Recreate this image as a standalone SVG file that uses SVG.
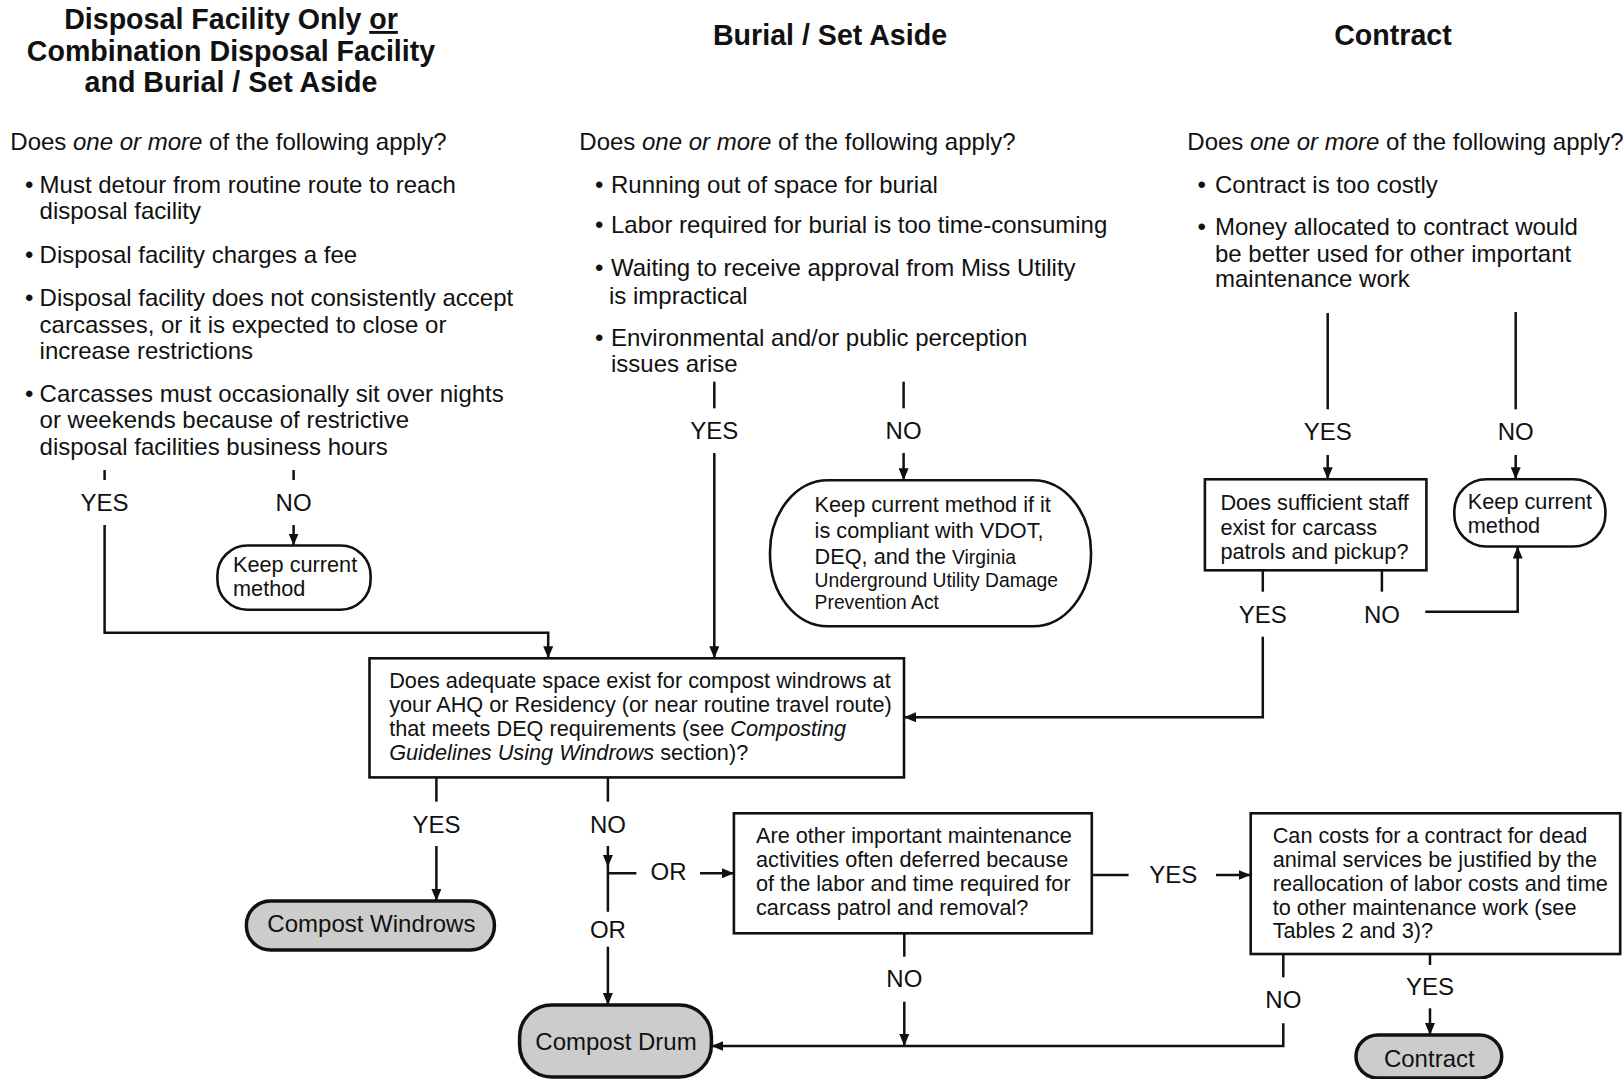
<svg xmlns="http://www.w3.org/2000/svg" width="1623" height="1079" viewBox="0 0 1623 1079">
<defs>
<marker id="ah" viewBox="0 0 12 10" refX="12" refY="5" markerWidth="12" markerHeight="10" markerUnits="userSpaceOnUse" orient="auto"><path d="M0,0 L12,5 L0,10 z" fill="#111"/></marker>
<style>
text{font-family:"Liberation Sans",Arial,sans-serif;fill:#111}
.t{font-size:28.6px;font-weight:bold;text-anchor:middle}
.b{font-size:24px}
.l{font-size:24px;text-anchor:middle}
.n{font-size:21.7px}
.s{font-size:19.3px}
.m{font-size:24px;text-anchor:middle}
.i{font-style:italic}
.box{fill:#fff;stroke:#111;stroke-width:2.6}
.term{fill:#cccccc;stroke:#111;stroke-width:3.5}
.c{fill:none;stroke:#111;stroke-width:2.5}
.ca{fill:none;stroke:#111;stroke-width:2.5;marker-end:url(#ah)}
</style>
</defs>
<rect width="1623" height="1079" fill="#fff"/>

<g id="headings">
<text class="t" x="231" y="29">Disposal Facility Only <tspan text-decoration="underline">or</tspan></text>
<text class="t" x="231" y="61">Combination Disposal Facility</text>
<text class="t" x="231" y="92">and Burial / Set Aside</text>
<text class="t" x="830" y="44.5">Burial / Set Aside</text>
<text class="t" x="1393" y="44.5">Contract</text>
</g>

<g id="q-disposal">
<text class="b" x="10.3" y="150">Does <tspan class="i">one or more</tspan> of the following apply?</text>
<text class="b" x="25" y="192.7">•</text>
<text class="b" x="39.6" y="192.7">Must detour from routine route to reach</text>
<text class="b" x="39.6" y="219.3">disposal facility</text>
<text class="b" x="25" y="263.3">•</text>
<text class="b" x="39.6" y="263.3">Disposal facility charges a fee</text>
<text class="b" x="25" y="306">•</text>
<text class="b" x="39.6" y="306">Disposal facility does not consistently accept</text>
<text class="b" x="39.6" y="333.3">carcasses, or it is expected to close or</text>
<text class="b" x="39.6" y="359.3">increase restrictions</text>
<text class="b" x="25" y="401.7">•</text>
<text class="b" x="39.6" y="401.7">Carcasses must occasionally sit over nights</text>
<text class="b" x="39.6" y="428.3">or weekends because of restrictive</text>
<text class="b" x="39.6" y="455">disposal facilities business hours</text>
</g>

<g id="q-burial">
<text class="b" x="579.3" y="150">Does <tspan class="i">one or more</tspan> of the following apply?</text>
<text class="b" x="595" y="192.7">•</text>
<text class="b" x="611" y="192.7">Running out of space for burial</text>
<text class="b" x="595" y="233.3">•</text>
<text class="b" x="611" y="233.3">Labor required for burial is too time-consuming</text>
<text class="b" x="595" y="276">•</text>
<text class="b" x="611" y="276">Waiting to receive approval from Miss Utility</text>
<text class="b" x="609" y="304">is impractical</text>
<text class="b" x="595" y="346">•</text>
<text class="b" x="611" y="346">Environmental and/or public perception</text>
<text class="b" x="611" y="371.7">issues arise</text>
</g>

<g id="q-contract">
<text class="b" x="1187.3" y="150">Does <tspan class="i">one or more</tspan> of the following apply?</text>
<text class="b" x="1197.5" y="192.7">•</text>
<text class="b" x="1215" y="192.7">Contract is too costly</text>
<text class="b" x="1197.5" y="235">•</text>
<text class="b" x="1215" y="235">Money allocated to contract would</text>
<text class="b" x="1215" y="261.7">be better used for other important</text>
<text class="b" x="1215" y="287.3">maintenance work</text>
</g>

<g id="keep-left">
<rect class="box" x="217.4" y="545.5" width="153.2" height="64.2" rx="30"/>
<text class="n" x="233" y="572">Keep current</text>
<text class="n" x="233" y="596">method</text>
</g>

<g id="keep-burial">
<rect class="box" x="770" y="480.3" width="321" height="146" rx="58" ry="72"/>
<text class="n" x="814.6" y="512">Keep current method if it</text>
<text class="n" x="814.6" y="537.8">is compliant with VDOT,</text>
<text class="n" x="814.6" y="563.6">DEQ, and the <tspan class="s">Virginia</tspan></text>
<text class="s" x="814.6" y="586.6">Underground Utility Damage</text>
<text class="s" x="814.6" y="609.3">Prevention Act</text>
</g>

<g id="staff">
<rect class="box" x="1204.9" y="479.3" width="221.5" height="91"/>
<text class="n" x="1220.4" y="509.8">Does sufficient staff</text>
<text class="n" x="1220.4" y="534.7">exist for carcass</text>
<text class="n" x="1220.4" y="558.5">patrols and pickup?</text>
</g>

<g id="keep-right">
<rect class="box" x="1454.3" y="479.3" width="151.1" height="67.2" rx="32"/>
<text class="n" x="1467.8" y="508.8">Keep current</text>
<text class="n" x="1467.8" y="532.6">method</text>
</g>

<g id="space">
<rect class="box" x="369.5" y="658.3" width="534.5" height="119.1"/>
<text class="n" x="389.2" y="687.9">Does adequate space exist for compost windrows at</text>
<text class="n" x="389.2" y="711.7">your AHQ or Residency (or near routine travel route)</text>
<text class="n" x="389.2" y="736">that meets DEQ requirements (see <tspan class="i">Composting</tspan></text>
<text class="n" x="389.2" y="760"><tspan class="i">Guidelines Using Windrows</tspan> section)?</text>
</g>

<g id="windrows">
<rect class="term" x="246.4" y="901" width="248" height="49" rx="24"/>
<text class="m" x="371.4" y="932">Compost Windrows</text>
</g>

<g id="deferred">
<rect class="box" x="733.9" y="813.3" width="357.9" height="120"/>
<text class="n" x="756" y="842.7">Are other important maintenance</text>
<text class="n" x="756" y="866.7">activities often deferred because</text>
<text class="n" x="756" y="890.7">of the labor and time required for</text>
<text class="n" x="756" y="915">carcass patrol and removal?</text>
</g>

<g id="justify">
<rect class="box" x="1250.7" y="813.3" width="369.5" height="140.7"/>
<text class="n" x="1272.7" y="842.7">Can costs for a contract for dead</text>
<text class="n" x="1272.7" y="866.7">animal services be justified by the</text>
<text class="n" x="1272.7" y="890.7">reallocation of labor costs and time</text>
<text class="n" x="1272.7" y="915">to other maintenance work (see</text>
<text class="n" x="1272.7" y="938.3">Tables 2 and 3)?</text>
</g>

<g id="drum">
<rect class="term" x="519.6" y="1005" width="191.8" height="72" rx="32"/>
<text class="m" x="616" y="1050">Compost Drum</text>
</g>

<g id="contract">
<rect class="term" x="1356" y="1035" width="145.7" height="43" rx="22"/>
<text class="m" x="1429.3" y="1066.5">Contract</text>
</g>

<g id="connectors">
<line class="c" x1="104.6" y1="470" x2="104.6" y2="480"/>
<text class="l" x="104.6" y="510.7">YES</text>
<path class="ca" d="M104.6,525 V632.7 H548.2 V658.3"/>
<line class="c" x1="293.6" y1="470" x2="293.6" y2="480"/>
<text class="l" x="293.6" y="510.7">NO</text>
<path class="ca" d="M293.6,525 V545.5"/>
<line class="c" x1="714.3" y1="381.7" x2="714.3" y2="408.3"/>
<text class="l" x="714.3" y="439.3">YES</text>
<path class="ca" d="M714.3,453 V658.3"/>
<line class="c" x1="903.6" y1="381.7" x2="903.6" y2="408.3"/>
<text class="l" x="903.6" y="439.3">NO</text>
<path class="ca" d="M903.6,453 V480.3"/>
<line class="c" x1="1327.7" y1="313" x2="1327.7" y2="409.3"/>
<text class="l" x="1327.7" y="440">YES</text>
<path class="ca" d="M1327.7,455 V479.3"/>
<line class="c" x1="1515.7" y1="312" x2="1515.7" y2="409.3"/>
<text class="l" x="1515.7" y="440">NO</text>
<path class="ca" d="M1515.7,455 V479.3"/>
<line class="c" x1="1262.8" y1="570.3" x2="1262.8" y2="591.7"/>
<text class="l" x="1262.8" y="623.3">YES</text>
<path class="ca" d="M1262.8,636.7 V717.3 H904"/>
<line class="c" x1="1381.9" y1="570.3" x2="1381.9" y2="591.7"/>
<text class="l" x="1381.9" y="623.3">NO</text>
<path class="ca" d="M1425.3,611.7 H1517.7 V546.5"/>
<line class="c" x1="436.4" y1="777.4" x2="436.4" y2="801.7"/>
<text class="l" x="436.4" y="833.3">YES</text>
<path class="ca" d="M436.4,846 V901"/>
<line class="c" x1="607.9" y1="777.4" x2="607.9" y2="801.7"/>
<text class="l" x="607.9" y="833.3">NO</text>
<path class="ca" d="M607.9,846 V867"/>
<path class="c" d="M607.9,866 V911.7 M607.9,873.3 H636.4"/>
<text class="l" x="668.6" y="880">OR</text>
<path class="ca" d="M700,873.3 H733.9"/>
<text class="l" x="607.9" y="938.3">OR</text>
<path class="ca" d="M607.9,946.7 V1005"/>
<line class="c" x1="1091.8" y1="875" x2="1128.6" y2="875"/>
<text class="l" x="1173.2" y="882.7">YES</text>
<path class="ca" d="M1216,875 H1250.7"/>
<line class="c" x1="904.3" y1="933.3" x2="904.3" y2="956.7"/>
<text class="l" x="904.3" y="987.3">NO</text>
<path class="ca" d="M904.3,1001.7 V1046"/>
<line class="c" x1="1283.3" y1="954" x2="1283.3" y2="977.3"/>
<text class="l" x="1283.3" y="1008.3">NO</text>
<path class="ca" d="M1283.3,1023.3 V1046 H711.4"/>
<line class="c" x1="1430" y1="954" x2="1430" y2="965"/>
<text class="l" x="1430" y="995">YES</text>
<path class="ca" d="M1430,1008.3 V1035"/>
</g>
</svg>
